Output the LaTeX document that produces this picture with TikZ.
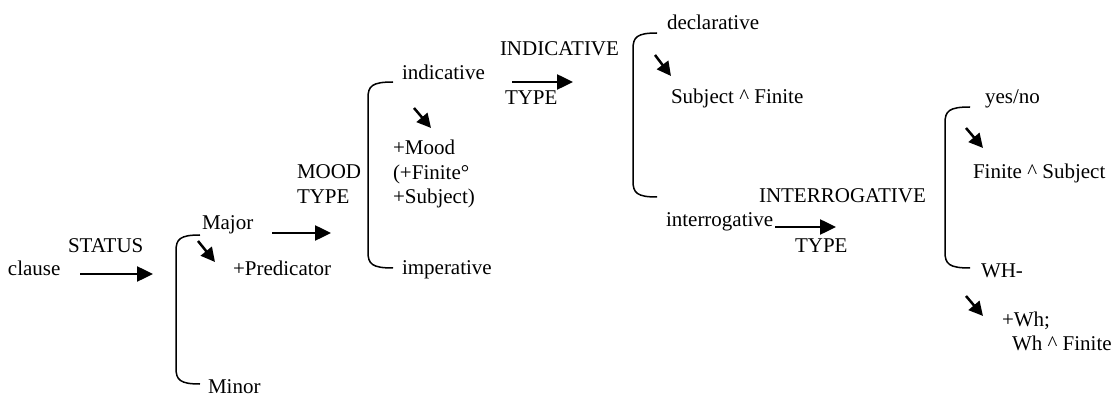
\documentclass[tikz,border=0pt]{standalone}
\usepackage{fontspec}
\setmainfont{Liberation Serif}
\usetikzlibrary{arrows.meta}
\tikzset{
  lbl/.style={anchor=base west, inner sep=0pt, outer sep=0pt, font=\fontsize{21}{24.5}\selectfont},
  bigarrow/.style={line width=2.5pt, -{Triangle[length=16pt,width=15pt]}},
  smallarrow/.style={line width=2.5pt, -{Triangle[length=14pt,width=14pt]}},
  brack/.style={line width=1.5pt}
}
\newcommand{\mybracket}[4]{% xleft, xend, ytop, ybot
  \draw[brack] (#2,#3) .. controls (#1+4,#3) and (#1,#3+4) .. (#1,#3+16) -- (#1,#4-16) .. controls (#1,#4-4) and (#1+4,#4) .. (#2,#4);
}
\begin{document}
\begin{tikzpicture}[x=1pt,y=-1pt]
\useasboundingbox (0,0) rectangle (1114,398);
% level 1
\node[lbl] (clause) at (8,276) {clause};
\node[lbl] (status) at (68,253) {STATUS};
\coordinate (a1s) at (80,274); \coordinate (a1e) at (153,274);
\draw[bigarrow] (a1s) -- (a1e);
\mybracket{176}{200}{235}{384}
\node[lbl] (major) at (202,230) {Major};
\coordinate (s1s) at (198,241); \coordinate (s1e) at (215,262);
\draw[smallarrow] (s1s) -- (s1e);
\node[lbl] (pred) at (233,276) {+Predicator};
\node[lbl] (minor) at (208,393) {Minor};
% level 2
\node[lbl] (mood) at (297,179) {MOOD};
\node[lbl] (moodtype) at (297,204) {TYPE};
\coordinate (a2s) at (272,233); \coordinate (a2e) at (331,233);
\draw[bigarrow] (a2s) -- (a2e);
\mybracket{368}{393}{82}{268}
\node[lbl] (indic) at (402,80) {indicative};
\coordinate (s2s) at (414,108); \coordinate (s2e) at (431,128);
\draw[smallarrow] (s2s) -- (s2e);
\node[lbl] (moodf1) at (393,155) {+Mood};
\node[lbl] (moodf2) at (393,179.5) {(+Finite°};
\node[lbl] (moodf3) at (393,204) {+Subject)};
\node[lbl] (imper) at (402,275) {imperative};
% level 3
\node[lbl] (indtype) at (500,56) {INDICATIVE};
\node[lbl] (indtype2) at (505,105) {TYPE};
\coordinate (a3s) at (512,82); \coordinate (a3e) at (573,82);
\draw[bigarrow] (a3s) -- (a3e);
\mybracket{633}{657}{33}{197}
\node[lbl] (decl) at (667,30) {declarative};
\coordinate (s3s) at (655,55); \coordinate (s3e) at (671,76);
\draw[smallarrow] (s3s) -- (s3e);
\node[lbl] (subfin) at (671,104) {Subject \textasciicircum\ Finite};
\node[lbl] (interr) at (666,227) {interrogative};
% level 4
\node[lbl] (inttype) at (759,203) {INTERROGATIVE};
\node[lbl] (inttype2) at (795,252) {TYPE};
\coordinate (a4s) at (775,227); \coordinate (a4e) at (836,227);
\draw[bigarrow] (a4s) -- (a4e);
\mybracket{945}{970}{107}{268}
\node[lbl] (yesno) at (985,104) {yes/no};
\coordinate (s4s) at (966,128); \coordinate (s4e) at (983,148);
\draw[smallarrow] (s4s) -- (s4e);
\node[lbl] (finsub) at (973,179) {Finite \textasciicircum\ Subject};
\node[lbl] (wh) at (981,277) {WH-};
\coordinate (s5s) at (966,296); \coordinate (s5e) at (983,316);
\draw[smallarrow] (s5s) -- (s5e);
\node[lbl] (wh1) at (1002,326) {+Wh;};
\node[lbl] (wh2) at (1012,350) {Wh \textasciicircum\ Finite};
\end{tikzpicture}
\end{document}
